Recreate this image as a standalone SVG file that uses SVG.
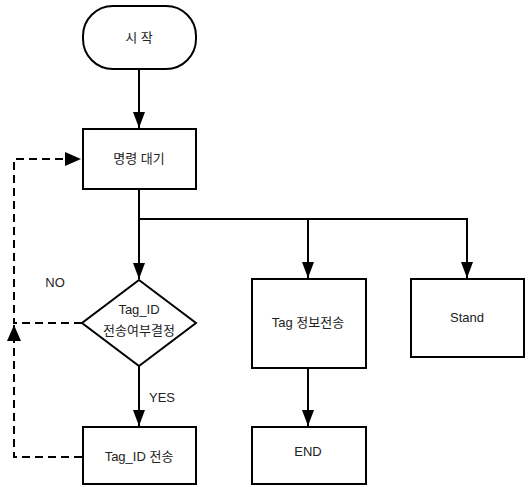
<svg xmlns="http://www.w3.org/2000/svg" width="529" height="487" viewBox="0 0 529 487">
<style>
.box{fill:#fff;stroke:#000;stroke-width:2}
.ln{fill:none;stroke:#000;stroke-width:2}
.dash{fill:none;stroke:#000;stroke-width:2;stroke-dasharray:8,5}
text{font-family:"Liberation Sans","Noto Sans CJK KR",sans-serif;font-size:13px;fill:#222;text-anchor:middle}
</style>
<defs>
<marker id="ah" markerWidth="16" markerHeight="12" refX="16" refY="6" orient="auto" markerUnits="userSpaceOnUse" viewBox="0 0 16 12">
<path d="M0,0 L16,6 L0,12 Z" fill="#000"/>
</marker>
<marker id="ah2" markerWidth="16" markerHeight="14" refX="16" refY="7" orient="auto" markerUnits="userSpaceOnUse" viewBox="0 0 16 14">
<path d="M0,0 L16,7 L0,14 Z" fill="#000"/>
</marker>
</defs>
<g id="connectors">
<line class="ln" x1="139" y1="69" x2="139" y2="128" marker-end="url(#ah)"/>
<line class="ln" x1="139" y1="189" x2="139" y2="279" marker-end="url(#ah)"/>
<polyline class="ln" points="139,219 467,219 467,278" marker-end="url(#ah)"/>
<line class="ln" x1="308" y1="219" x2="308" y2="278" marker-end="url(#ah)"/>
<line class="ln" x1="139" y1="366" x2="139" y2="426" marker-end="url(#ah)"/>
<line class="ln" x1="308" y1="368" x2="308" y2="426" marker-end="url(#ah)"/>
<polyline class="dash" points="82,323 14,323 14,159 81,159" marker-end="url(#ah2)"/>
<polyline class="dash" points="82,457 14,457 14,325" marker-end="url(#ah2)"/>
<text x="55" y="287">NO</text>
<text x="162" y="402">YES</text>
</g>
<g id="start">
<rect class="box" x="83" y="6" width="113" height="63" rx="30" ry="30"/>
<text x="139" y="42">시 작</text>
</g>
<g id="wait">
<rect class="box" x="83" y="129" width="113" height="60"/>
<text x="139" y="163">명령 대기</text>
</g>
<g id="decision">
<polygon class="box" points="139,280 196,323 139,366 82,323"/>
<text x="139" y="314">Tag_ID</text>
<text x="139" y="335">전송여부결정</text>
</g>
<g id="tagid">
<rect class="box" x="83" y="427" width="113" height="57"/>
<text x="139" y="461">Tag_ID 전송</text>
</g>
<g id="taginfo">
<rect class="box" x="252" y="279" width="114" height="89"/>
<text x="308" y="327">Tag 정보전송</text>
</g>
<g id="stand">
<rect class="box" x="411" y="279" width="113" height="78"/>
<text x="467" y="322">Stand</text>
</g>
<g id="end">
<rect class="box" x="252" y="427" width="114" height="57"/>
<text x="308" y="456">END</text>
</g>
</svg>
